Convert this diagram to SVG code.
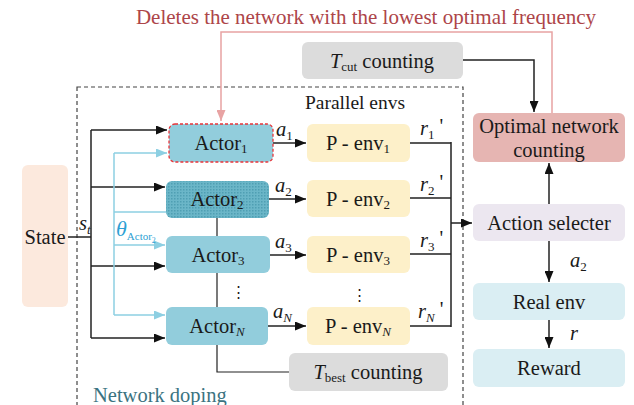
<svg xmlns="http://www.w3.org/2000/svg" width="634" height="405" viewBox="0 0 634 405">
<defs>
<style>
text{fill:#1a1a1a;font-family:'Liberation Serif','Times New Roman',serif}
.t{font-size:20.5px}
.sub{font-size:13px}
.it{font-style:italic}
.ln{fill:none;stroke:#222;stroke-width:1.5}
.bl{fill:none;stroke:#8dcfe2;stroke-width:1.5}
.rd{fill:none;stroke:#e8a3a3;stroke-width:1.5}
.actor{fill:#92cddc}
.penv{fill:#fdf0c9}
.grey{fill:#dcdcdc}
</style>
<marker id="ah" markerUnits="userSpaceOnUse" markerWidth="11" markerHeight="9" refX="11" refY="4.5" orient="auto"><path d="M0,0 L11,4.5 L0,9 z" fill="#111"/></marker>
<marker id="ahb" markerUnits="userSpaceOnUse" markerWidth="11" markerHeight="9" refX="11" refY="4.5" orient="auto"><path d="M0,0 L11,4.5 L0,9 z" fill="#8dcfe2"/></marker>
<marker id="ahr" markerUnits="userSpaceOnUse" markerWidth="11" markerHeight="9" refX="11" refY="4.5" orient="auto"><path d="M0,0 L11,4.5 L0,9 z" fill="#e8a3a3"/></marker>
<pattern id="hatch" width="3" height="3" patternUnits="userSpaceOnUse"><rect width="3" height="3" fill="#6bb6c8"/><rect width="1.5" height="1.5" fill="#4f9fb3"/></pattern>
</defs>

<text x="366" y="24" text-anchor="middle" style="font-size:21px;fill:#ad4549">Deletes the network with the lowest optimal frequency</text>

<rect x="77" y="87" width="386" height="330" fill="none" stroke="#444" stroke-width="1.2" stroke-dasharray="4,3"/>
<text x="355" y="109" text-anchor="middle" style="font-size:19.5px">Parallel envs</text>
<text x="93" y="402" style="font-size:20.5px;fill:#3b7381">Network doping</text>

<g id="connectors">
<path class="rd" d="M552,113 V32 H221 V121" marker-end="url(#ahr)"/>
<path class="ln" d="M463,60 H534 V112" marker-end="url(#ah)"/>
<path class="ln" d="M68,237 H91"/>
<path class="ln" d="M91,130 V338"/>
<path class="ln" d="M91,130 H167" marker-end="url(#ah)"/>
<path class="ln" d="M91,187 H165" marker-end="url(#ah)"/>
<path class="ln" d="M91,266 H165" marker-end="url(#ah)"/>
<path class="ln" d="M91,338 H165" marker-end="url(#ah)"/>
<path class="bl" d="M114,153 V315"/>
<path class="bl" d="M166,212 H114"/>
<path class="bl" d="M114,153 H167" marker-end="url(#ahb)"/>
<path class="bl" d="M114,245 H165" marker-end="url(#ahb)"/>
<path class="bl" d="M114,315 H165" marker-end="url(#ahb)"/>
<path class="ln" d="M217,218 V236 M217,273 V307 M217,345 V372 H289" style="stroke-width:1.2"/>
<path class="ln" d="M273,143 H306" marker-end="url(#ah)"/>
<path class="ln" d="M269,199 H306" marker-end="url(#ah)"/>
<path class="ln" d="M270,255 H306" marker-end="url(#ah)"/>
<path class="ln" d="M268,326 H306" marker-end="url(#ah)"/>
<path class="ln" d="M410,143 H451 M410,198 H451 M410,254 H451 M410,326 H451 M451,142 V327"/>
<path class="ln" d="M451,223 H472" marker-end="url(#ah)"/>
<path class="ln" d="M549,204 V163" marker-end="url(#ah)"/>
<path class="ln" d="M549,241 V282" marker-end="url(#ah)"/>
<path class="ln" d="M549,320 V348" marker-end="url(#ah)"/>
</g>

<text x="79" y="230" class="t it">s<tspan class="sub" dy="4">t</tspan></text>
<text x="116" y="236" class="it" style="font-size:22px;fill:#2e9fd4">θ<tspan dy="4" style="font-size:11px;font-style:normal;fill:#2e9fd4">Actor</tspan><tspan dy="3" style="font-size:8px;font-style:normal;fill:#2e9fd4">2</tspan></text>
<text x="276" y="136" class="t it">a<tspan class="sub" dy="4" style="font-style:normal">1</tspan></text>
<text x="275" y="192" class="t it">a<tspan class="sub" dy="4" style="font-style:normal">2</tspan></text>
<text x="275" y="248" class="t it">a<tspan class="sub" dy="4" style="font-style:normal">3</tspan></text>
<text x="273" y="318" class="t it">a<tspan class="sub it" dy="4">N</tspan></text>
<text x="420" y="135" class="t it">r<tspan class="sub" dy="4" style="font-style:normal">1</tspan><tspan dy="-6" style="font-style:normal"> '</tspan></text>
<text x="420" y="191" class="t it">r<tspan class="sub" dy="4" style="font-style:normal">2</tspan><tspan dy="-6" style="font-style:normal"> '</tspan></text>
<text x="420" y="247" class="t it">r<tspan class="sub" dy="4" style="font-style:normal">3</tspan><tspan dy="-6" style="font-style:normal"> '</tspan></text>
<text x="418" y="318" class="t it">r<tspan class="sub" dy="4">N</tspan><tspan dy="-6" style="font-style:normal"> '</tspan></text>
<text x="570" y="267" class="t it">a<tspan class="sub" dy="4" style="font-style:normal">2</tspan></text>
<text x="570" y="340" class="t it">r</text>
<text x="238" y="297" text-anchor="middle" style="font-size:15px">⋮</text>
<text x="359" y="300" text-anchor="middle" style="font-size:15px">⋮</text>

<g id="state"><rect x="22" y="165" width="46" height="142" rx="6" fill="#fce9dd"/><text x="45" y="244" class="t" text-anchor="middle">State</text></g>

<g id="actor1"><rect x="169" y="124" width="104" height="38" rx="6" class="actor" stroke="#e8353a" stroke-width="1.3" stroke-dasharray="3,2"/><text x="221" y="150" class="t" text-anchor="middle">Actor<tspan class="sub" dy="3">1</tspan></text></g>
<g id="actor2"><rect x="166" y="181" width="103" height="37" rx="6" fill="url(#hatch)"/><text x="217" y="206" class="t" text-anchor="middle">Actor<tspan class="sub" dy="3">2</tspan></text></g>
<g id="actor3"><rect x="166" y="236" width="104" height="37" rx="6" class="actor"/><text x="218" y="262" class="t" text-anchor="middle">Actor<tspan class="sub" dy="3">3</tspan></text></g>
<g id="actorN"><rect x="166" y="307" width="102" height="38" rx="6" class="actor"/><text x="217" y="333" class="t" text-anchor="middle">Actor<tspan class="sub it" dy="3">N</tspan></text></g>

<g id="penv1"><rect x="307" y="124" width="103" height="38" rx="6" class="penv"/><text x="358" y="150" class="t" text-anchor="middle">P - env<tspan class="sub" dy="3">1</tspan></text></g>
<g id="penv2"><rect x="307" y="180" width="103" height="37" rx="6" class="penv"/><text x="358" y="206" class="t" text-anchor="middle">P - env<tspan class="sub" dy="3">2</tspan></text></g>
<g id="penv3"><rect x="307" y="236" width="103" height="37" rx="6" class="penv"/><text x="358" y="262" class="t" text-anchor="middle">P - env<tspan class="sub" dy="3">3</tspan></text></g>
<g id="penvN"><rect x="307" y="307" width="103" height="38" rx="6" class="penv"/><text x="358" y="333" class="t" text-anchor="middle">P - env<tspan class="sub it" dy="3">N</tspan></text></g>

<g id="tcut"><rect x="302" y="42" width="161" height="37" rx="6" class="grey"/><text x="382" y="68" class="t" text-anchor="middle"><tspan class="it">T</tspan><tspan class="sub" dy="3">cut</tspan><tspan dy="-3">  counting</tspan></text></g>
<g id="tbest"><rect x="289" y="353" width="159" height="38" rx="6" class="grey"/><text x="368" y="379" class="t" text-anchor="middle"><tspan class="it">T</tspan><tspan class="sub" dy="3">best</tspan><tspan dy="-3">  counting</tspan></text></g>

<g id="optimal"><rect x="473" y="113" width="152" height="49" rx="6" fill="#e6b5b2"/><text x="549" y="133" class="t" text-anchor="middle">Optimal network</text><text x="549" y="157" class="t" text-anchor="middle">counting</text></g>
<g id="selecter"><rect x="473" y="204" width="152" height="37" rx="6" fill="#ece7f0"/><text x="549" y="230" class="t" text-anchor="middle">Action selecter</text></g>
<g id="realenv"><rect x="473" y="283" width="152" height="37" rx="6" fill="#daeef3"/><text x="549" y="309" class="t" text-anchor="middle">Real env</text></g>
<g id="reward"><rect x="473" y="349" width="152" height="38" rx="6" fill="#daeef3"/><text x="549" y="375" class="t" text-anchor="middle">Reward</text></g>
</svg>
